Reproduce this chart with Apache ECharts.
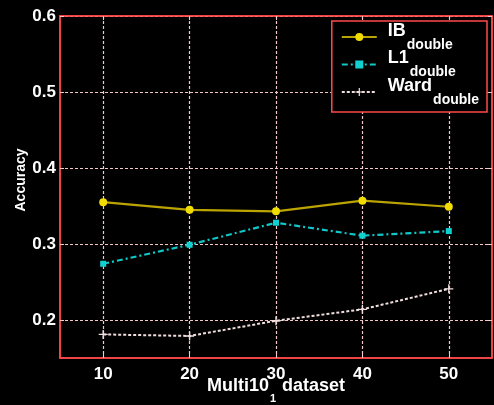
<!DOCTYPE html>
<html><head><meta charset="utf-8">
<script src="https://cdn.jsdelivr.net/npm/echarts@6/dist/echarts.min.js"></script>
<style>html,body{margin:0;padding:0;background:#000;}#c{width:494px;height:405px;}</style>
</head><body><div id="c"></div>
<script>
var xValues = [10, 20, 30, 40, 50];
var xTicks = [10, 20, 30, 40, 50];
var yTicks = [0.2, 0.3, 0.4, 0.5, 0.6];
var ibValues = [0.355, 0.345, 0.343, 0.357, 0.349];
var l1Values = [0.274, 0.299, 0.328, 0.311, 0.317];
var wardValues = [0.181, 0.179, 0.199, 0.214, 0.241];
var seriesNames = ['IB', 'L1', 'Ward'];
var legendSub = 'double';
var xNameMain = 'Multi10';
var xNameSub = '1';
var xNameRest = ' dataset';

function pairs(vals){ return xValues.map(function(x,i){ return [x, vals[i]]; }); }

var font = 'Liberation Sans';
var ctx = document.createElement('canvas').getContext('2d');
function tw(t, size){ ctx.font = 'bold ' + size + 'px "' + font + '"'; return ctx.measureText(t).width; }

var legRich = {
  m: {color: '#fff', fontFamily: font, fontWeight: 'bold', fontSize: 18, lineHeight: 16, padding: [0,0,0,6]}
};
seriesNames.forEach(function(n, i){
  legRich['s' + i] = {color: '#fff', fontFamily: font, fontWeight: 'bold', fontSize: 14, lineHeight: 12,
    padding: [0,0,0,6 + tw(n, 18) + 1]};
});

var wMain = tw(xNameMain, 18), wSub = tw(xNameSub, 11), wRest = tw(xNameRest, 18);
var gapW = wSub + 2;
var W1 = wMain + gapW + wRest;
var subLeft = -W1/2 + wMain + 1;
var padL = 0, padR = 0;
var v = 2*subLeft + wSub;
if (v >= 0) padL = v; else padR = -v;
var xName = '{a|' + xNameMain + '}{g|}{a|' + xNameRest + '}\n{b|' + xNameSub + '}';

var chart = echarts.init(document.getElementById('c'));
var gridCol = '#f4c8c8';
var red = '#ff4a4a';
var frameAxis = {show: true, lineStyle: {color: red, width: 1.5}};
chart.setOption({
  backgroundColor: '#000',
  animation: false,
  grid: {left: 60, right: 2, top: 16, bottom: 47, containLabel: false, outerBoundsMode: 'none',
         show: true, borderColor: red, borderWidth: 1.5, backgroundColor: '#000'},
  xAxis: [{
    type: 'value', min: 5, max: 55,
    name: xName, nameLocation: 'middle', nameGap: 19, nameMoveOverlap: false,
    nameTextStyle: {rich: {
      a: {color: '#fff', fontFamily: font, fontWeight: 'bold', fontSize: 18, lineHeight: 18},
      g: {width: gapW, lineHeight: 18},
      b: {color: '#fff', fontFamily: font, fontWeight: 'bold', fontSize: 11, lineHeight: 8, padding: [0, padR, 0, padL]}
    }},
    axisLine: frameAxis,
    axisTick: {show: true, inside: true, length: 4, customValues: xTicks, lineStyle: {color: gridCol}},
    axisLabel: {customValues: xTicks, color: '#fff', fontFamily: font, fontWeight: 'bold', fontSize: 17, margin: 8},
    splitLine: {show: true, lineStyle: {color: gridCol, type: [3,2], width: 1.2}}
  }, {
    type: 'value', min: 5, max: 55, position: 'top',
    axisLine: frameAxis,
    axisTick: {show: true, inside: true, length: 4, customValues: xTicks, lineStyle: {color: gridCol}},
    axisLabel: {show: false}, splitLine: {show: false}
  }],
  yAxis: [{
    type: 'value', min: 0.15, max: 0.6,
    name: 'Accuracy', nameLocation: 'middle', nameGap: 32, nameMoveOverlap: false,
    nameTextStyle: {color: '#fff', fontFamily: font, fontWeight: 'bold', fontSize: 14, padding: [0,0,0,14]},
    axisLine: frameAxis,
    axisTick: {show: true, inside: true, length: 4, customValues: yTicks, lineStyle: {color: gridCol}},
    axisLabel: {customValues: yTicks, color: '#fff', fontFamily: font, fontWeight: 'bold', fontSize: 17, margin: 4,
      formatter: function(v){ return v.toFixed(1); }},
    splitLine: {show: true, lineStyle: {color: gridCol, type: [3,2], width: 1.2}}
  }, {
    type: 'value', min: 0.15, max: 0.6, position: 'right',
    axisLine: frameAxis,
    axisTick: {show: true, inside: true, length: 4, customValues: yTicks, lineStyle: {color: gridCol}},
    axisLabel: {show: false}, splitLine: {show: false}
  }],
  legend: {
    orient: 'vertical', right: 7, top: 21,
    backgroundColor: '#000', borderColor: red, borderWidth: 1.5,
    padding: [1, 8, 5, 9], itemWidth: 35, itemHeight: 10, itemGap: -2.5,
    data: seriesNames,
    formatter: function(n){ return '{m|' + n + '}\n{s' + seriesNames.indexOf(n) + '|' + legendSub + '}'; },
    textStyle: {rich: legRich}
  },
  series: [
    {name: 'IB', type: 'line', data: pairs(ibValues), symbol: 'circle', symbolSize: 8,
     lineStyle: {color: '#bca400', width: 2.2}, itemStyle: {color: '#f0dc00'}},
    {name: 'L1', type: 'line', data: pairs(l1Values), symbol: 'rect', symbolSize: 6,
     lineStyle: {color: '#10c8c8', width: 2.2, type: [6,3,2,3]}, itemStyle: {color: '#10d0d0'}},
    {name: 'Ward', type: 'line', data: pairs(wardValues), symbol: 'path://M3.4,0h1.2v8h-1.2z M0,3.4h8v1.2h-8z', symbolSize: 9,
     lineStyle: {color: '#f0dede', width: 2, type: [3,2]}, itemStyle: {color: '#f0dede'}}
  ]
});
</script></body></html>
